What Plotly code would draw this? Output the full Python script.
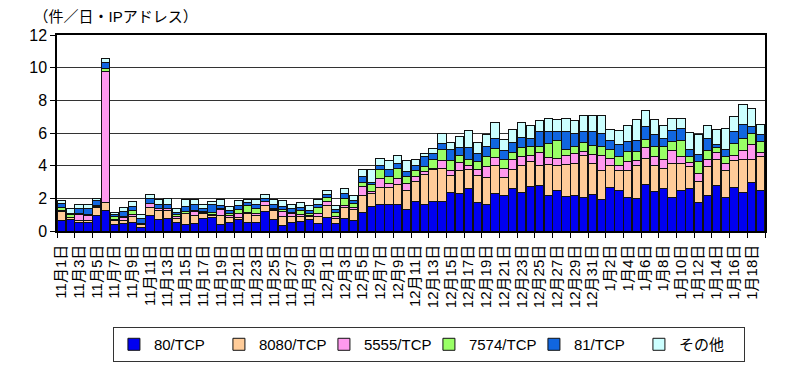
import plotly.graph_objects as go

# Categories: Nov 1 - Jan 19
dates = [f"11月{d}日" for d in range(1, 31)] + [f"12月{d}日" for d in range(1, 32)] + [f"1月{d}日" for d in range(1, 20)]

series_names = ["80/TCP", "8080/TCP", "5555/TCP", "7574/TCP", "81/TCP", "その他"]

tcp80 = [0.67, 0.70, 0.50, 0.55, 0.96, 1.24, 0.37, 0.45, 0.55, 0.24,
         0.96, 0.70, 0.75, 0.50, 0.40, 0.45, 0.75, 0.85, 0.40, 0.50,
         0.70, 0.50, 0.55, 1.18, 0.70, 0.35, 0.55, 0.60, 0.70, 0.45,
         0.84, 0.43, 0.78, 0.67, 1.14, 1.49, 1.63, 1.63, 1.63, 1.29,
         1.82, 1.65, 1.82, 1.83, 2.35, 2.30, 2.61, 1.76, 1.65, 2.27,
         2.18, 2.61, 2.35, 2.71, 2.78, 2.18, 2.47, 2.12, 2.16, 2.08,
         2.22, 1.90, 2.68, 2.51, 2.06, 2.00, 2.86, 2.43, 2.59, 2.06,
         2.51, 2.59, 1.73, 2.16, 2.78, 2.06, 2.68, 2.35, 2.96, 2.51]

tcp8080 = [0.50, 0.10, 0.15, 0.10, 0.45, 0.50, 0.30, 0.20, 0.35, 0.15,
           0.50, 0.55, 0.50, 0.25, 0.65, 0.50, 0.35, 0.10, 0.55, 0.35,
           0.15, 0.60, 0.40, 0.40, 0.55, 0.55, 0.35, 0.30, 0.20, 0.45,
           0.75, 0.35, 0.67, 0.66, 1.06, 0.81, 1.04, 1.04, 1.19, 1.22,
           1.24, 1.78, 1.92, 2.00, 1.02, 1.39, 1.13, 1.63, 1.62, 1.71,
           1.09, 1.17, 1.69, 1.54, 1.26, 1.92, 1.57, 1.98, 1.98, 2.57,
           1.90, 1.80, 1.30, 1.19, 1.67, 2.00, 1.59, 1.55, 1.25, 2.08,
           1.63, 1.35, 1.33, 1.78, 1.57, 1.67, 1.62, 2.00, 1.39, 2.04]

tcp5555 = [0.10, 0.00, 0.35, 0.30, 0.10, 8.05, 0.05, 0.15, 0.10, 0.05,
           0.20, 0.10, 0.10, 0.15, 0.05, 0.25, 0.05, 0.05, 0.35, 0.10,
           0.20, 0.05, 0.10, 0.20, 0.05, 0.30, 0.20, 0.10, 0.05, 0.20,
           0.20, 0.10, 0.14, 0.12, 0.50, 0.10, 0.55, 0.23, 0.40, 0.39,
           0.27, 0.20, 0.10, 0.50, 0.32, 0.49, 0.30, 0.39, 0.67, 0.53,
           0.57, 0.57, 0.51, 0.40, 0.76, 0.41, 0.41, 0.55, 0.62, 0.21,
           0.55, 0.90, 0.47, 0.34, 0.52, 0.30, 0.67, 0.57, 0.51, 0.78,
           0.41, 0.25, 0.45, 0.45, 0.45, 0.41, 0.35, 0.57, 0.92, 0.25]

tcp7574 = [0.15, 0.20, 0.05, 0.05, 0.05, 0.15, 0.15, 0.10, 0.25, 0.05,
           0.05, 0.05, 0.05, 0.10, 0.10, 0.05, 0.05, 0.15, 0.05, 0.10,
           0.25, 0.40, 0.30, 0.05, 0.05, 0.10, 0.05, 0.25, 0.10, 0.35,
           0.27, 0.24, 0.41, 0.25, 0.30, 0.42, 0.52, 0.43, 0.62, 0.43,
           0.37, 0.31, 0.51, 0.65, 0.60, 0.47, 0.31, 0.47, 0.65, 0.55,
           0.51, 0.47, 0.57, 0.51, 0.40, 0.82, 1.12, 0.35, 0.40, 0.55,
           0.55, 0.60, 0.51, 0.51, 0.61, 0.55, 0.51, 0.61, 0.81, 0.55,
           1.02, 0.36, 0.75, 0.53, 0.30, 0.41, 0.72, 0.75, 0.71, 0.67]

tcp81 = [0.25, 0.10, 0.30, 0.35, 0.30, 0.35, 0.15, 0.30, 0.25, 0.30,
         0.30, 0.20, 0.25, 0.15, 0.30, 0.35, 0.20, 0.45, 0.20, 0.20,
         0.25, 0.20, 0.30, 0.15, 0.30, 0.20, 0.20, 0.20, 0.20, 0.20,
         0.20, 0.17, 0.27, 0.16, 0.31, 0.18, 0.26, 0.41, 0.30, 0.30,
         0.30, 0.61, 0.40, 0.40, 0.67, 0.45, 0.75, 0.51, 0.57, 0.61,
         0.57, 0.61, 0.61, 0.51, 0.88, 0.75, 0.51, 1.08, 0.82, 0.67,
         0.88, 0.80, 0.61, 0.72, 0.61, 0.70, 0.76, 0.72, 0.51, 0.71,
         0.72, 0.45, 0.45, 0.75, 0.20, 0.41, 0.75, 0.86, 0.41, 0.41]

other = [0.18, 0.25, 0.30, 0.30, 0.10, 0.25, 0.13, 0.25, 0.30, 0.25,
         0.20, 0.35, 0.35, 0.25, 0.45, 0.35, 0.20, 0.20, 0.40, 0.25,
         0.30, 0.20, 0.30, 0.27, 0.30, 0.35, 0.30, 0.30, 0.30, 0.30,
         0.24, 0.26, 0.34, 0.30, 0.43, 0.74, 0.41, 0.57, 0.51, 0.68,
         0.39, 0.21, 0.30, 0.57, 0.47, 0.68, 1.04, 0.67, 0.74, 0.96,
         0.69, 0.79, 0.90, 0.78, 0.66, 0.82, 0.76, 0.82, 0.76, 1.02,
         1.00, 1.05, 0.65, 0.87, 1.02, 1.30, 0.96, 0.96, 0.78, 0.72,
         0.61, 1.02, 1.20, 0.78, 0.92, 1.34, 0.88, 1.23, 1.12, 0.67]

y_ticks = [0, 2, 4, 6, 8, 10, 12]
unit_label = "（件／日・IPアドレス）"

colors = ["#0000F0", "#FFCC99", "#FF99EE", "#99FF66", "#1166E0", "#CCFFFF"]
values = [tcp80, tcp8080, tcp5555, tcp7574, tcp81, other]

FONT = "Liberation Sans, Arial, Noto Sans CJK JP, sans-serif"

xidx = list(range(len(dates)))
fig = go.Figure()
for name, col, vals in zip(series_names, colors, values):
    fig.add_trace(go.Bar(
        x=xidx, y=vals, name=name,
        marker=dict(color=col, line=dict(color="#111111", width=1)),
    ))

fig.update_layout(
    barmode="stack",
    bargap=0.06,
    width=800, height=371,
    margin=dict(l=57, r=35, t=35, b=140, autoexpand=False),
    paper_bgcolor="white", plot_bgcolor="white",
    font=dict(family=FONT, color="black", size=15),
    title=dict(
        text=unit_label, xref="container", yref="container",
        x=0.042, y=0.954, xanchor="left", yanchor="middle",
        font=dict(size=15, family=FONT, color="black"),
    ),
    showlegend=True,
    legend=dict(
        orientation="h", traceorder="normal",
        x=0.079, y=-0.49, xanchor="left", yanchor="top",
        bordercolor="#333333", borderwidth=1,
        font=dict(size=15, family=FONT),
        entrywidth=60, itemwidth=30,
        bgcolor="white",
    ),
)

fig.update_xaxes(
    range=[-0.5, len(dates) - 0.5],
    tickmode="array",
    tickvals=xidx[::2],
    ticktext=dates[::2],
    tickangle=-90,
    ticks="",
    ticklabelstandoff=6,
    tickfont=dict(size=15, family=FONT),
    showgrid=False,
    automargin=False,
    showline=True, linecolor="black", linewidth=1.5, mirror=True,
    minor=dict(tick0=-0.5, dtick=2, ticks="outside", ticklen=5, tickcolor="black", showgrid=False),
)
fig.update_yaxes(
    range=[0, 12],
    tickvals=y_ticks,
    ticks="outside", ticklen=5, tickcolor="black",
    tickfont=dict(size=16, family=FONT),
    showgrid=True, gridcolor="#333333", gridwidth=1,
    showline=True, linecolor="black", linewidth=1.5, mirror=True,
    zeroline=False, automargin=False,
)

fig.write_html("out.html", config={"displayModeBar": False},
               post_script="document.body.style.margin='0';")
